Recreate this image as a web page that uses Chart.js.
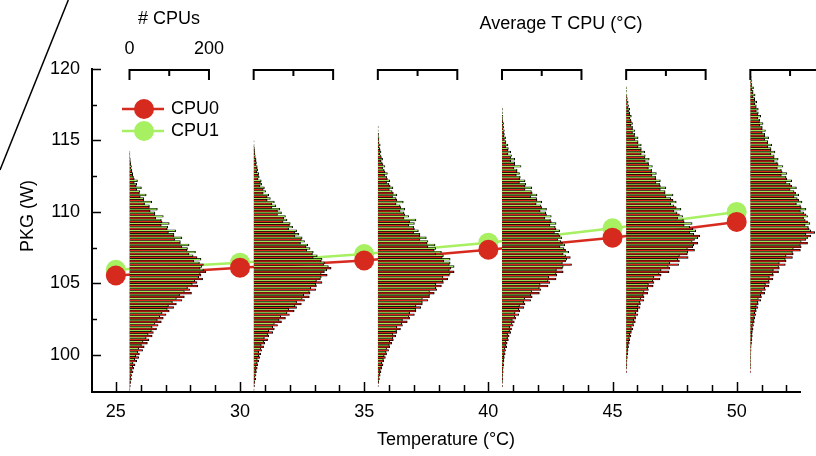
<!DOCTYPE html>
<html>
<head>
<meta charset="utf-8">
<script src="https://cdn.jsdelivr.net/npm/chart.js@4"></script>
<style>
  html, body { margin: 0; padding: 0; background: #fff; }
  canvas { display: block; }
</style>
</head>
<body>
<canvas id="myChart" width="816" height="456"></canvas>
<script>
// average temperature of each run and the mean package power
var temps = [25, 30, 35, 40, 45, 50];
var cpu0Pkg = [105.55, 106.1, 106.6, 107.35, 108.2, 109.3];
var cpu1Pkg = [105.95, 106.45, 107.05, 107.85, 108.85, 110.0];
var xTickValues = [25, 30, 35, 40, 45, 50];
var yTickValues = [100, 105, 110, 115, 120];

// PKG bins (W) for the histograms, 0.25 W wide
var pkgBins = [97.5, 97.75, 98, 98.25, 98.5, 98.75, 99, 99.25, 99.5, 99.75,
  100, 100.25, 100.5, 100.75, 101, 101.25, 101.5, 101.75, 102, 102.25,
  102.5, 102.75, 103, 103.25, 103.5, 103.75, 104, 104.25, 104.5, 104.75,
  105, 105.25, 105.5, 105.75, 106, 106.25, 106.5, 106.75, 107, 107.25,
  107.5, 107.75, 108, 108.25, 108.5, 108.75, 109, 109.25, 109.5, 109.75,
  110, 110.25, 110.5, 110.75, 111, 111.25, 111.5, 111.75, 112, 112.25,
  112.5, 112.75, 113, 113.25, 113.5, 113.75, 114, 114.25, 114.5, 114.75,
  115, 115.25, 115.5, 115.75, 116, 116.25, 116.5, 116.75, 117, 117.25,
  117.5, 117.75, 118, 118.25, 118.5, 118.75, 119, 119.25, 119.5, 119.75];

// number of CPUs per bin, one array per temperature
var cpu0Hist25 = [1, 2, 3, 5, 6, 9, 11, 14, 18, 23,
  25, 33, 37, 45, 49, 57, 60, 68, 72, 80,
  85, 92, 100, 111, 118, 132, 138, 156, 152, 172,
  170, 184, 180, 192, 178, 186, 162, 170, 150, 145,
  132, 128, 114, 112, 98, 95, 80, 82, 66, 64,
  52, 50, 38, 36, 27, 25, 18, 17, 12, 12,
  8, 6, 4, 3, 2, 1, 1];
var cpu1Hist25 = [0, 1, 1, 2, 3, 4, 5, 8, 9, 13,
  16, 21, 23, 30, 34, 42, 47, 55, 57, 64,
  70, 76, 82, 95, 98, 108, 118, 126, 138, 146,
  158, 164, 174, 178, 186, 182, 176, 180, 160, 166,
  146, 150, 128, 132, 112, 116, 96, 100, 80, 85,
  64, 70, 50, 56, 36, 42, 26, 30, 18, 20,
  10, 8, 6, 5, 3, 2, 1, 1];
var cpu0Hist30 = [1, 2, 3, 5, 6, 7, 9, 10, 13, 15,
  18, 20, 25, 28, 35, 38, 48, 52, 60, 70,
  80, 90, 102, 108, 120, 128, 140, 142, 156, 158,
  172, 168, 185, 178, 195, 176, 170, 150, 148, 134,
  132, 118, 120, 104, 104, 88, 90, 74, 76, 60,
  60, 46, 46, 34, 34, 24, 24, 16, 17, 11,
  12, 8, 9, 6, 6, 4, 3, 2, 1];
var cpu1Hist30 = [0, 0, 1, 2, 3, 4, 6, 6, 9, 9,
  13, 13, 18, 19, 25, 27, 35, 38, 48, 52,
  64, 68, 84, 88, 104, 108, 122, 126, 140, 144,
  156, 158, 170, 170, 184, 188, 178, 172, 160, 150,
  142, 136, 128, 122, 114, 108, 98, 92, 84, 80,
  70, 66, 56, 52, 42, 38, 30, 27, 20, 19,
  14, 13, 10, 9, 7, 6, 4, 3, 2, 1,
  1];
var cpu0Hist35 = [0, 1, 2, 4, 6, 8, 10, 13, 15, 19,
  22, 27, 30, 35, 39, 45, 48, 57, 62, 74,
  80, 92, 96, 108, 112, 126, 130, 142, 148, 160,
  165, 176, 180, 192, 184, 180, 166, 162, 146, 142,
  126, 124, 106, 106, 90, 92, 78, 80, 66, 68,
  56, 58, 46, 48, 37, 39, 29, 31, 22, 24,
  17, 18, 12, 13, 8, 9, 5, 6, 3, 3,
  2, 1];
var cpu1Hist35 = [0, 0, 0, 2, 3, 5, 6, 9, 10, 14,
  16, 21, 22, 29, 30, 38, 38, 47, 48, 60,
  62, 78, 80, 95, 96, 112, 112, 130, 130, 146,
  146, 164, 164, 182, 180, 192, 182, 182, 165, 160,
  146, 144, 126, 122, 106, 102, 90, 92, 96, 78,
  66, 68, 56, 64, 46, 48, 36, 38, 28, 30,
  22, 24, 16, 18, 11, 12, 8, 8, 5, 6,
  3, 3, 2, 1, 1];
var cpu0Hist40 = [0, 1, 1, 2, 2, 3, 3, 4, 5, 6,
  8, 9, 12, 13, 16, 18, 22, 24, 28, 31,
  35, 42, 45, 55, 58, 72, 76, 94, 98, 116,
  120, 136, 138, 154, 152, 175, 160, 172, 154, 160,
  146, 152, 140, 146, 132, 136, 120, 124, 108, 112,
  96, 100, 86, 88, 72, 76, 58, 58, 44, 45,
  36, 38, 30, 32, 22, 22, 15, 15, 9, 9,
  6, 5, 4, 3, 2, 2, 1];
var cpu1Hist40 = [0, 0, 0, 1, 1, 2, 2, 3, 3, 4,
  5, 6, 7, 9, 10, 14, 14, 19, 20, 25,
  26, 32, 33, 42, 44, 55, 57, 72, 75, 94,
  96, 116, 118, 136, 137, 154, 152, 163, 160, 168,
  156, 158, 148, 150, 142, 145, 134, 136, 122, 124,
  110, 112, 98, 100, 87, 88, 74, 75, 60, 58,
  46, 44, 38, 48, 32, 32, 24, 22, 16, 15,
  10, 9, 6, 6, 4, 4, 2, 2, 1, 1];
var cpu0Hist45 = [0, 0, 0, 0, 0, 1, 1, 2, 2, 3,
  4, 5, 6, 8, 9, 12, 13, 17, 19, 23,
  24, 29, 30, 35, 36, 44, 45, 54, 56, 68,
  70, 85, 88, 108, 110, 132, 134, 156, 154, 172,
  168, 180, 172, 185, 160, 168, 146, 146, 130, 134,
  120, 126, 112, 118, 100, 98, 86, 86, 75, 75,
  65, 64, 56, 57, 48, 47, 38, 38, 30, 30,
  22, 21, 16, 16, 12, 13, 9, 9, 6, 5,
  3, 2, 1];
var cpu1Hist45 = [0, 0, 0, 0, 0, 0, 0, 1, 1, 2,
  2, 3, 4, 5, 6, 8, 9, 13, 13, 18,
  19, 23, 24, 29, 30, 35, 37, 43, 45, 54,
  56, 67, 70, 83, 88, 106, 110, 130, 134, 155,
  154, 170, 166, 180, 170, 175, 160, 166, 144, 142,
  128, 138, 120, 126, 112, 118, 98, 100, 84, 86,
  74, 76, 64, 66, 56, 58, 48, 47, 38, 38,
  30, 30, 22, 22, 16, 16, 12, 13, 9, 9,
  6, 5, 3, 2, 1, 1];
var cpu0Hist50 = [0, 0, 0, 0, 0, 1, 1, 1, 1, 1,
  1, 2, 2, 3, 4, 5, 5, 7, 8, 10,
  11, 14, 15, 19, 20, 26, 28, 36, 38, 47,
  48, 57, 58, 71, 73, 88, 90, 106, 108, 126,
  128, 144, 140, 152, 162, 148, 138, 144, 134, 140,
  126, 128, 116, 122, 110, 114, 100, 104, 90, 92,
  78, 80, 68, 70, 60, 60, 52, 52, 44, 44,
  36, 36, 30, 30, 24, 23, 19, 19, 15, 15,
  11, 11, 7, 7, 4, 3, 2, 1];
var cpu1Hist50 = [0, 0, 0, 0, 0, 0, 0, 1, 1, 1,
  1, 1, 1, 2, 2, 3, 4, 5, 5, 7,
  8, 10, 11, 14, 15, 19, 20, 26, 28, 36,
  38, 47, 48, 57, 58, 71, 73, 88, 90, 106,
  108, 126, 128, 144, 140, 152, 146, 150, 138, 144,
  134, 140, 126, 130, 118, 122, 110, 116, 100, 104,
  90, 92, 78, 82, 68, 70, 60, 62, 52, 54,
  44, 46, 36, 38, 30, 32, 24, 26, 20, 20,
  15, 16, 11, 12, 7, 8, 4, 4, 2, 1];

var cpu0Hists = [cpu0Hist25, cpu0Hist30, cpu0Hist35, cpu0Hist40, cpu0Hist45, cpu0Hist50];
var cpu1Hists = [cpu1Hist25, cpu1Hist30, cpu1Hist35, cpu1Hist40, cpu1Hist45, cpu1Hist50];

// each histogram sits just right of its temperature, 200 CPUs span 3.2 degC
var histOffset = 0.55;
var degPerCpu = 3.2 / 200;

var RED = '#d62a1e';
var GREEN = '#a6f062';
var FONT = '"Liberation Sans", Arial, sans-serif';

function histPoints(hists) {
    var pts = [];
    hists.forEach(function (counts, g) {
        var base = temps[g] + histOffset;
        counts.forEach(function (n, i) {
            if (n > 0) pts.push({ y: pkgBins[i], x: [base, base + n * degPerCpu] });
        });
    });
    return pts;
}

function linePoints(values) {
    return temps.map(function (t, i) { return { x: t, y: values[i] }; });
}

// ticks, brackets, titles and legend
var decorPlugin = {
    id: 'decor',
    afterDraw: function (chart) {
        var ctx = chart.ctx;
        var xs = chart.scales.x;
        var ys = chart.scales.y;
        var area = chart.chartArea;
        ctx.save();
        ctx.strokeStyle = '#000';
        ctx.fillStyle = '#000';

        // inward ticks
        ctx.lineWidth = 1.5;
        ctx.beginPath();
        for (var t = 25; t <= 52; t++) {
            var px = Math.round(xs.getPixelForValue(t)) + 0.5;
            var len = (t % 5 === 0) ? 10 : 7;
            ctx.moveTo(px, area.bottom);
            ctx.lineTo(px, area.bottom - len);
        }
        for (var v = 100; v <= 120; v += 2.5) {
            var py = Math.round(ys.getPixelForValue(v)) + 0.5;
            var l2 = (v % 5 === 0) ? 9 : 5;
            ctx.moveTo(area.left, py);
            ctx.lineTo(area.left + l2, py);
        }
        ctx.stroke();

        // # CPUs brackets above every histogram
        ctx.lineWidth = 2;
        var by = area.top + 1;
        temps.forEach(function (t) {
            var x0 = xs.getPixelForValue(t + histOffset);
            var x2 = xs.getPixelForValue(t + histOffset + 200 * degPerCpu);
            var x1 = (x0 + x2) / 2;
            ctx.beginPath();
            ctx.moveTo(x0, by + 10);
            ctx.lineTo(x0, by);
            ctx.lineTo(x2, by);
            ctx.lineTo(x2, by + 10);
            ctx.moveTo(x1, by);
            ctx.lineTo(x1, by + 6);
            ctx.stroke();
        });

        // texts
        ctx.font = '18px ' + FONT;
        ctx.textAlign = 'center';
        ctx.textBaseline = 'middle';
        var b0 = xs.getPixelForValue(temps[0] + histOffset);
        var b2 = xs.getPixelForValue(temps[0] + histOffset + 200 * degPerCpu);
        ctx.fillText('# CPUs', 169, 19);
        ctx.fillText('0', b0, 49);
        ctx.fillText('200', b2, 49);
        ctx.fillText('Average T CPU (\u00B0C)', 561, 24);
        ctx.fillText('Temperature (\u00B0C)', (area.left + area.right) / 2, 440);
        ctx.save();
        ctx.translate(28, 216);
        ctx.rotate(-Math.PI / 2);
        ctx.fillText('PKG (W)', 0, 0);
        ctx.restore();

        // legend
        var items = [['CPU0', RED, 109], ['CPU1', GREEN, 131]];
        ctx.textAlign = 'left';
        items.forEach(function (it) {
            ctx.strokeStyle = it[1];
            ctx.fillStyle = it[1];
            ctx.lineWidth = 2.5;
            ctx.beginPath();
            ctx.moveTo(122, it[2]);
            ctx.lineTo(164, it[2]);
            ctx.stroke();
            ctx.beginPath();
            ctx.arc(144, it[2], 10, 0, Math.PI * 2);
            ctx.fill();
            ctx.fillStyle = '#000';
            ctx.fillText(it[0], 171, it[2]);
        });

        // stray line at the top left corner of the figure
        ctx.strokeStyle = '#000';
        ctx.lineWidth = 1.5;
        ctx.beginPath();
        ctx.moveTo(68.3, 0);
        ctx.lineTo(0, 170);
        ctx.stroke();
        ctx.restore();
    }
};

var ctx = document.getElementById('myChart').getContext('2d');
var myChart = new Chart(ctx, {
    type: 'line',
    data: {
        datasets: [
            {
                type: 'bar',
                label: 'CPU0 hist',
                indexAxis: 'y',
                data: histPoints(cpu0Hists),
                backgroundColor: '#dc241a',
                borderColor: '#000',
                borderWidth: { top: 0.6, bottom: 0.6, right: 1 },
                borderSkipped: 'start',
                categoryPercentage: 1,
                barPercentage: 1,
                clip: false,
                order: 1
            },
            {
                type: 'bar',
                label: 'CPU1 hist',
                indexAxis: 'y',
                data: histPoints(cpu1Hists),
                backgroundColor: '#9ee85a',
                borderColor: '#000',
                borderWidth: { top: 0.6, bottom: 0.6, right: 1 },
                borderSkipped: 'start',
                categoryPercentage: 1,
                barPercentage: 1,
                clip: false,
                order: 1
            },
            {
                label: 'CPU0',
                data: linePoints(cpu0Pkg),
                borderColor: RED,
                backgroundColor: RED,
                borderWidth: 2.5,
                pointRadius: 10,
                pointBorderWidth: 0,
                clip: false,
                order: 10
            },
            {
                label: 'CPU1',
                data: linePoints(cpu1Pkg),
                borderColor: GREEN,
                backgroundColor: GREEN,
                borderWidth: 2.5,
                pointRadius: 10,
                pointBorderWidth: 0,
                clip: false,
                order: 11
            }
        ]
    },
    options: {
        responsive: false,
        animation: false,
        events: [],
        layout: { padding: { top: 69, right: 16, left: 0, bottom: 0 } },
        plugins: {
            legend: { display: false },
            tooltip: { enabled: false }
        },
        scales: {
            x: {
                type: 'linear',
                min: 24.04,
                max: 52.55,
                offset: false,
                stacked: false,
                afterBuildTicks: function (s) { s.ticks = xTickValues.map(function (v) { return { value: v }; }); },
                afterFit: function (s) { s.height = 64; },
                grid: { display: false, drawTicks: false, offset: false },
                border: { display: true, color: '#000', width: 2 },
                ticks: { color: '#000', padding: 9, maxRotation: 0, font: { size: 18, family: FONT } }
            },
            y: {
                type: 'linear',
                min: 97.4,
                max: 120,
                offset: false,
                afterBuildTicks: function (s) { s.ticks = yTickValues.map(function (v) { return { value: v }; }); },
                afterFit: function (s) { s.width = 92; },
                grid: { display: false, drawTicks: false, offset: false },
                border: { display: true, color: '#000', width: 2 },
                ticks: { color: '#000', padding: 12, font: { size: 18, family: FONT } }
            }
        }
    },
    plugins: [decorPlugin]
});
</script>
</body>
</html>
